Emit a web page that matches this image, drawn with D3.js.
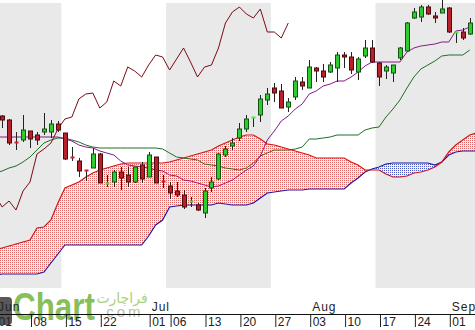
<!DOCTYPE html>
<html>
<head>
<meta charset="utf-8">
<script src="https://cdn.jsdelivr.net/npm/d3@7"></script>
<style>
  html, body { margin: 0; padding: 0; background: #fff; overflow: hidden; }
  svg { display: block; font-family: "Liberation Sans", Arial, sans-serif; }
</style>
</head>
<body>
<svg id="chart"></svg>
<script>
// candles, one per trading day; the first one is day 1 (day 0 = Jun 01 sits off the left edge)
const firstCandleDay = 1;
const opens = [184,180,158,160,169,165,168,168,176,167,143,139,130,132,146,116,118,128,125,118,
  135,123,143,119,114,109,105,98,95,87,112,121,145,154,162,171,182,185,200,212,
  209,193,203,218,212,232,229,228,232,245,243,228,244,252,237,229,227,242,249,282,
  283,293,284,287,292,267.5,268,266];
const highs = [185,181,168,185,169,168,187,180,179,167,153,142,130,152,147,125,130,133,133,133,
  138,148,143,125,118,118,110,103,97,112,123,147,154,162,177,185,183,205,212,217,
  216,202,223,223,240,233,236,238,248,248,248,243,260,260,238,235,235,253,278,292,
  295,295,288,300,293,268,272,282];
const lows = [172,155,150,158,152,155,165,162,168,140,139,123,119,132,117,113,113,110,113,117,
  117,123,117,112,101,103,91,93,89,82,108,120,143,150,159,168,173,178,195,198,
  192,188,200,210,212,218,218,227,218,232,226,220,242,237,214,221,218,240,249,281,
  278,285,277,287,267,257,260,265];
const closes = [180,157,157,170,161,160,171,176,170,141,142,129,129,146,117,117,128,122,118,133,
  121,145,117,118,107,105,93,99,90,109,118,146,151,157,171,181,183,201,206,207,
  192,198,219,214,233,229,223,235,245,243,230,241,252,238,223,233,235,252,277,288,
  293,286,282,291,268,268,262,277];

// ichimoku lines, one value per day from day 0
const tenkan = [163,163,163,163,163,163,163,163,163,163,161,159,155,153,152,149,147,145,139,135,
  134,133,132,130,129,125,124,120,119,117,115,113,114,117,120,125,130,134,144,160,
  169,179,184,191,196,206,209,214,216,219,219,223,228,234,238,238,238,238,238,248,
  252,254,255,256,258,258,269,270,273];
const kijun = [127,129,132,134,138,143,150,157,160,162,162,160,158,155,153,152,152,152,152,152,
  152,152,152,152,151,147,143,142,141,140,136,135,134,132,131,130,132,137,144,147,
  150,150,150,151,153,161,161,162,163,165,165,165,165,170,172,173,183,191,200,212,
  223,231,235,239,244,245,245,245,250];
const spanA = [50,52,54,56,58,60,72,73,80,97,112,115,118,123,127,130,132,134,136,137,
  137,137,137,137,137,138,140,142,144,146,148,150,154,157,160,163,165,165,161,156,
  155,153,151,149,147,145,142,142,142,142,142,138,135,130,130,130,126,123,123,124,
  127,128,130,133,138,148,155,160,165,167];
const spanB = [25,26,26,26,26,26,26,28,37,46,55,55,55,55,55,55,55,55,55,55,
  55,55,64,75,80,93,94,95,95,95,95,95,97,96,95,95,95,97,102,107,
  108,109,110,110,110,111,111,111,111,111,111,117,122,128,131,133,136,137,137,137,
  137,137,137,135,138,145,148,149,149,149];

// x axis: trading-day index of each tick
const tickDays = [0, 5, 10, 15, 22, 25, 30, 35, 40, 45, 50, 55, 60, 65];
const tickLabels = ["01","08","15","22","01","06","13","20","27","03","10","17","24","01"];
const monthDays = [0, 22, 45, 65];
const monthLabels = ["Jun","Jul","Aug","Sep"];

// shaded background periods (15 trading days each)
const shadedFrom = [-6, 25, 55];
const shadedTo = [9, 39, 69];

const width = 475, height = 330,
  plotTop = 3, plotBottom = 288, axisY = 314;

const x = d3.scaleLinear().domain([0, 68]).range([-4.9, 469.74]);
const y = d3.scaleLinear().domain([12, 300]).range([plotBottom, 0]);

const svg = d3.select("#chart").attr("width", width).attr("height", height);
const defs = svg.append("defs");

function dotPattern(id, bg, dot) {
  const p = defs.append("pattern").attr("id", id)
    .attr("width", 2).attr("height", 2).attr("patternUnits", "userSpaceOnUse");
  p.append("rect").attr("width", 2).attr("height", 2).attr("fill", bg);
  p.append("rect").attr("width", 1).attr("height", 1).attr("fill", dot);
}
dotPattern("redDots", "#fff0f0", "#e06464");
dotPattern("blueDots", "#f3f4fc", "#4a58c4");

defs.append("clipPath").attr("id", "plotClip")
  .append("rect").attr("x", 0).attr("y", 0).attr("width", width).attr("height", plotBottom);

const plot = svg.append("g").attr("clip-path", "url(#plotClip)");

/* background bands */
plot.selectAll("rect.band")
  .data(shadedFrom)
  .enter()
  .append("rect")
  .attr("class", "band")
  .attr("x", (d) => x(d - 0.5))
  .attr("width", (d, i) => x(shadedTo[i] + 0.5) - x(d - 0.5))
  .attr("y", plotTop)
  .attr("height", plotBottom - plotTop)
  .attr("fill", "#e9e9e9");

/* cloud: red where span A is on top, blue where span B is */
const cloudDays = d3.range(spanA.length);
const band = d3.area().x((d) => x(d)).y0((d) => y(spanA[d])).y1((d) => y(spanB[d]));
const aboveB = d3.area().x((d) => x(d)).y0((d) => y(spanB[d])).y1(-5);
const aboveA = d3.area().x((d) => x(d)).y0((d) => y(spanA[d])).y1(-5);
defs.append("clipPath").attr("id", "clipAboveB").append("path").attr("d", aboveB(cloudDays));
defs.append("clipPath").attr("id", "clipAboveA").append("path").attr("d", aboveA(cloudDays));

plot.append("path").attr("d", band(cloudDays))
  .attr("fill", "url(#redDots)").attr("clip-path", "url(#clipAboveB)");
plot.append("path").attr("d", band(cloudDays))
  .attr("fill", "url(#blueDots)").attr("clip-path", "url(#clipAboveA)");

function drawLine(values, start, color, w) {
  const line = d3.line().x((d, i) => x(i + start)).y((d) => y(d));
  plot.append("path").attr("d", line(values))
    .attr("fill", "none").attr("stroke", color).attr("stroke-width", w);
}

drawLine(spanB, 0, "#1a1aa8", 1.2);
drawLine(spanA, 0, "#d41414", 1.2);
drawLine(kijun, 0, "#1f6e24", 1);
drawLine(tenkan, 0, "#861a86", 1);
// lagging span: closes moved back 26 days
drawLine(closes.slice(26 - firstCandleDay), 0, "#7a0c14", 1);

/* candles */
const candles = opens.map((o, k) => ({
  day: k + firstCandleDay, o: o, h: highs[k], l: lows[k], c: closes[k]
}));

const cg = plot.append("g");
cg.selectAll("line")
  .data(candles)
  .enter()
  .append("line")
  .attr("x1", (d) => Math.round(x(d.day)) + 0.5)
  .attr("x2", (d) => Math.round(x(d.day)) + 0.5)
  .attr("y1", (d) => y(d.h))
  .attr("y2", (d) => y(d.l))
  .attr("stroke", "#222")
  .attr("stroke-width", 1);

cg.selectAll("rect")
  .data(candles)
  .enter()
  .append("rect")
  .attr("x", (d) => Math.round(x(d.day)) - 1.5)
  .attr("width", 4)
  .attr("y", (d) => Math.abs(d.o - d.c) < 1.5 ? y(Math.max(d.o, d.c)) - 0.5 : y(Math.max(d.o, d.c)))
  .attr("height", (d) => Math.abs(d.o - d.c) < 1.5 ? 2 : Math.abs(y(d.o) - y(d.c)))
  .attr("fill", (d) => {
    if (Math.abs(d.o - d.c) < 1.5) return d.c >= d.o ? "#44ee33" : "#d4202a";
    return d.c > d.o ? "#2fcc2f" : "#b8212b";
  })
  .attr("stroke", (d) => Math.abs(d.o - d.c) < 1.5 ? "none" : (d.c > d.o ? "#145214" : "#4a0a0a"))
  .attr("stroke-width", 1);

/* watermark logo */
const logo = svg.append("g").attr("opacity", 0.85);
logo.append("path")
  .attr("d", "M0,297 h8 q4,0 4,4 v20 q0,4 -4,4 h-8 z")
  .attr("fill", "#3d3d3d");
logo.append("text")
  .attr("x", 13).attr("y", 320)
  .attr("font-size", 38).attr("font-weight", "bold")
  .attr("textLength", 82).attr("lengthAdjust", "spacingAndGlyphs")
  .attr("fill", "#74b43c")
  .text("Chart");
logo.append("text")
  .attr("x", 122).attr("y", 303)
  .attr("text-anchor", "middle")
  .attr("font-family", "DejaVu Sans")
  .attr("font-size", 14)
  .attr("fill", "#9ccc65")
  .text("فراچارت");
logo.append("text")
  .attr("x", 99).attr("y", 317)
  .attr("font-size", 15)
  .attr("letter-spacing", 3)
  .attr("fill", "#a9b6a0")
  .text(".com");

/* time axis */
const xAxis = d3.axisBottom(x)
  .tickValues(tickDays)
  .tickFormat((d, i) => tickLabels[i])
  .tickSize(13)
  .tickSizeOuter(0);

const axisG = svg.append("g")
  .attr("transform", `translate(1,${axisY})`)
  .call(xAxis);
axisG.select(".domain").remove();
axisG.selectAll(".tick line").attr("stroke", "#222");
axisG.selectAll(".tick text")
  .attr("text-anchor", "start")
  .attr("x", 2)
  .attr("y", 3.5)
  .attr("font-family", "Liberation Sans, Arial, sans-serif")
  .attr("font-size", 12)
  .attr("fill", "#222");

svg.append("line")
  .attr("x1", 0).attr("x2", width)
  .attr("y1", axisY + 0.5).attr("y2", axisY + 0.5)
  .attr("stroke", "#111");

svg.selectAll("text.month")
  .data(monthDays)
  .enter()
  .append("text")
  .attr("class", "month")
  .attr("x", (d) => x(d) + 3)
  .attr("y", 311)
  .attr("font-size", 12)
  .attr("letter-spacing", 1)
  .attr("fill", "#222")
  .text((d, i) => monthLabels[i]);
</script>
</body>
</html>
